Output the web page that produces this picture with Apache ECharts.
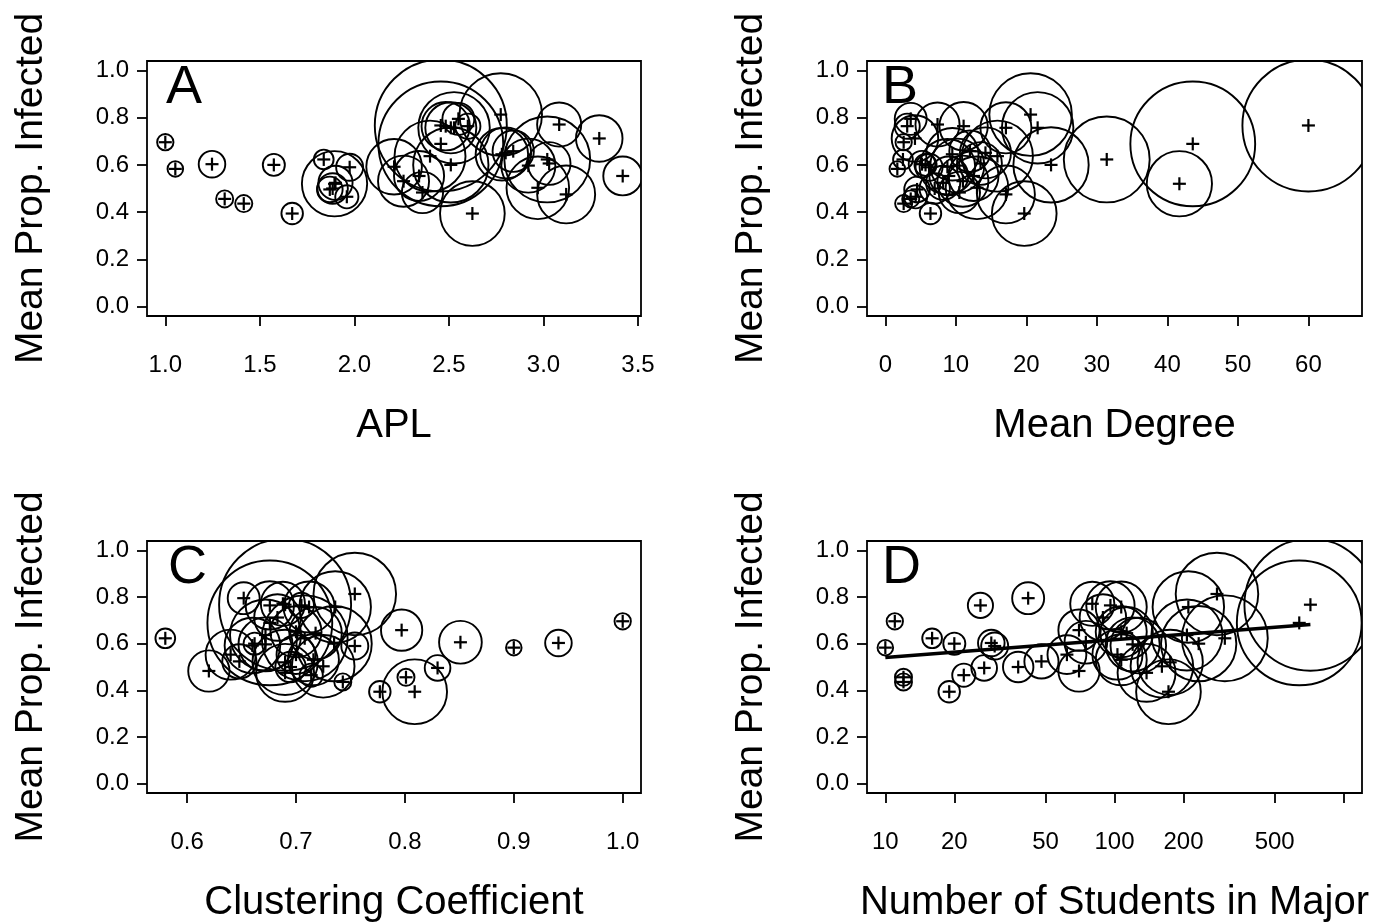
<!DOCTYPE html>
<html><head><meta charset="utf-8">
<script src="https://cdn.jsdelivr.net/npm/echarts@6/dist/echarts.min.js"></script>
<style>html,body{margin:0;padding:0;background:#fff;width:1382px;height:924px;overflow:hidden}#c{width:1382px;height:924px;display:block}</style>
</head><body><div id="c"></div>
<script>
// One entry per major
const students   = [10, 11, 12, 12, 16, 19, 20, 22, 26, 27, 29, 30, 38, 42, 48, 62, 70, 70, 80, 89, 96, 107, 107, 113, 120, 127, 103, 107, 138, 161, 175, 172, 210, 207, 233, 280, 303, 640, 716, 75];
const infected   = [0.583, 0.696, 0.456, 0.436, 0.623, 0.394, 0.600, 0.465, 0.764, 0.496, 0.603, 0.590, 0.500, 0.795, 0.524, 0.553, 0.483, 0.658, 0.771, 0.712, 0.764, 0.757, 0.651, 0.645, 0.597, 0.592, 0.553, 0.531, 0.475, 0.503, 0.520, 0.394, 0.757, 0.637, 0.600, 0.813, 0.623, 0.689, 0.767, 0.606];
const apl        = [1.053, 1.000, 1.314, 1.415, 1.838, 1.671, 1.574, 1.960, 2.600, 1.870, 1.247, 1.975, 1.885, 2.550, 1.900, 3.419, 2.360, 2.840, 3.083, 3.295, 2.483, 2.510, 2.800, 2.780, 2.920, 2.210, 2.342, 2.260, 3.120, 2.970, 1.895, 2.624, 2.527, 2.400, 2.510, 2.774, 3.020, 2.457, 2.457, 3.030];
const meanDegree = [1.7, 2.6, 3.6, 2.6, 2.5, 6.4, 5.7, 4.3, 3.1, 4.5, 5.2, 6.2, 7.0, 3.6, 8.2, 9.0, 10.5, 12.0, 7.4, 4.2, 11.1, 17.1, 14.2, 9.5, 10.2, 8.8, 12.5, 11.0, 17.1, 13.0, 41.7, 19.7, 21.6, 15.9, 23.5, 20.6, 31.4, 43.6, 60.0, 13.5];
const clustering = [0.900, 1.000, 0.801, 0.743, 0.580, 0.777, 0.662, 0.714, 0.705, 0.830, 0.941, 0.754, 0.695, 0.652, 0.648, 0.700, 0.620, 0.797, 0.688, 0.683, 0.676, 0.712, 0.700, 0.718, 0.672, 0.660, 0.640, 0.716, 0.690, 0.725, 0.690, 0.809, 0.736, 0.672, 0.735, 0.754, 0.708, 0.676, 0.690, 0.851];

// Fitted line in panel D: infected = a + b*log10(students)
const fitIntercept = 0.4648;
const fitSlope = 0.0762;

// Tick labels
const yTicks   = [0, 0.2, 0.4, 0.6, 0.8, 1.0];
const aplTicks = [1.0, 1.5, 2.0, 2.5, 3.0, 3.5];
const degTicks = [0, 10, 20, 30, 40, 50, 60];
const ccTicks  = [0.6, 0.7, 0.8, 0.9, 1.0];
const nTicks   = [10, 20, 50, 100, 200, 500, 1000];
const nTickLabels = {10:'10', 20:'20', 50:'50', 100:'100', 200:'200', 500:'500', 1000:''};

const panelLetters = ['A', 'B', 'C', 'D'];
const xTitles = ['APL', 'Mean Degree', 'Clustering Coefficient', 'Number of Students in Major'];
const yTitle = 'Mean Prop. Infected';

const FONT = '"Liberation Sans", Arial, sans-serif';
const maxN = Math.max(...students);
const radiusScale = 66 / Math.sqrt(maxN);

const grids = [
  {left: 147, top: 61, width: 494, height: 255},
  {left: 867, top: 61, width: 495, height: 255},
  {left: 147, top: 541, width: 494, height: 255},
  {left: 867, top: 541, width: 495, height: 255}
];

function pad(lo, hi) { const e = (hi - lo) * 0.04; return [lo - e, hi + e]; }
const aplRange = pad(Math.min(...apl), Math.max(...apl));
const ccRange = pad(Math.min(...clustering), Math.max(...clustering));
const degRange = pad(0, 65);
const yRange = pad(0, 1);
const nRange = [Math.pow(10, 1 - 0.08), Math.pow(10, 3 + 0.08)];

function fmt1(v) { return (Math.round(v * 10) / 10).toFixed(1); }

const tickStyle = {length: 10, lineStyle: {color: '#000', width: 1.8}};
const labelStyleX = {color: '#000', fontSize: 24, fontFamily: FONT, margin: 37};
const labelStyleY = {color: '#000', fontSize: 24, fontFamily: FONT, margin: 18};

function xAxisDef(i, type, range, ticks, formatter) {
  const o = {
    gridIndex: i, type: type, min: range[0], max: range[1], position: 'bottom',
    axisLine: {show: false, onZero: false}, splitLine: {show: false},
    axisTick: Object.assign({show: true, customValues: ticks}, tickStyle),
    axisLabel: Object.assign({show: true, customValues: ticks, formatter: formatter}, labelStyleX),
    name: xTitles[i], nameLocation: 'middle', nameGap: 90,
    nameTextStyle: {color: '#000', fontSize: 40, fontFamily: FONT}
  };
  if (type === 'log') o.logBase = 10;
  return o;
}
function yAxisDef(i) {
  return {
    gridIndex: i, type: 'value', min: yRange[0], max: yRange[1], position: 'left',
    axisLine: {show: false, onZero: false}, splitLine: {show: false},
    axisTick: Object.assign({show: true, customValues: yTicks}, tickStyle),
    axisLabel: Object.assign({show: true, customValues: yTicks, formatter: fmt1}, labelStyleY),
    name: yTitle, nameLocation: 'middle', nameGap: 96,
    nameTextStyle: {color: '#000', fontSize: 39, fontFamily: FONT}
  };
}

function bubbleSeries(i, xs) {
  return {
    type: 'custom', xAxisIndex: i, yAxisIndex: i, clip: true,
    data: xs.map((x, k) => [x, infected[k], students[k]]),
    renderItem: function (params, api) {
      const p = api.coord([api.value(0), api.value(1)]);
      const r = radiusScale * Math.sqrt(api.value(2));
      const h = 6.5;
      return {type: 'group', children: [
        {type: 'circle', shape: {cx: p[0], cy: p[1], r: r}, style: {fill: 'none', stroke: '#000', lineWidth: 1.9}},
        {type: 'line', shape: {x1: p[0] - h, y1: p[1], x2: p[0] + h, y2: p[1]}, style: {stroke: '#000', lineWidth: 2.2}},
        {type: 'line', shape: {x1: p[0], y1: p[1] - h, x2: p[0], y2: p[1] + h}, style: {stroke: '#000', lineWidth: 2.2}}
      ]};
    }
  };
}

const minN = Math.min(...students);
const fitData = [minN, maxN].map(n => [n, fitIntercept + fitSlope * Math.log10(n)]);

const letterPos = [[166, 88], [882, 88], [168, 568], [882, 568]];

const option = {
  animation: false,
  backgroundColor: '#fff',
  grid: grids.map(g => Object.assign({show: true, borderColor: '#000', borderWidth: 1.8, backgroundColor: 'transparent', containLabel: false}, g)),
  xAxis: [
    xAxisDef(0, 'value', aplRange, aplTicks, fmt1),
    xAxisDef(1, 'value', degRange, degTicks, v => String(Math.round(v))),
    xAxisDef(2, 'value', ccRange, ccTicks, fmt1),
    xAxisDef(3, 'log', nRange, nTicks, v => nTickLabels[Math.round(v)] !== undefined ? nTickLabels[Math.round(v)] : '')
  ],
  yAxis: [yAxisDef(0), yAxisDef(1), yAxisDef(2), yAxisDef(3)],
  series: [
    bubbleSeries(0, apl),
    bubbleSeries(1, meanDegree),
    bubbleSeries(2, clustering),
    bubbleSeries(3, students),
    {type: 'line', xAxisIndex: 3, yAxisIndex: 3, data: fitData, symbol: 'none', silent: true,
     lineStyle: {color: '#000', width: 3.5}, z: 5}
  ],
  graphic: panelLetters.map((t, i) => ({
    type: 'text', left: letterPos[i][0], top: letterPos[i][1] - 27, z: 10,
    style: {text: t, fill: '#000', fontSize: 54, fontFamily: FONT}
  }))
};

const chart = echarts.init(document.getElementById('c'), null, {renderer: 'canvas'});
chart.setOption(option);
</script>
</body></html>
